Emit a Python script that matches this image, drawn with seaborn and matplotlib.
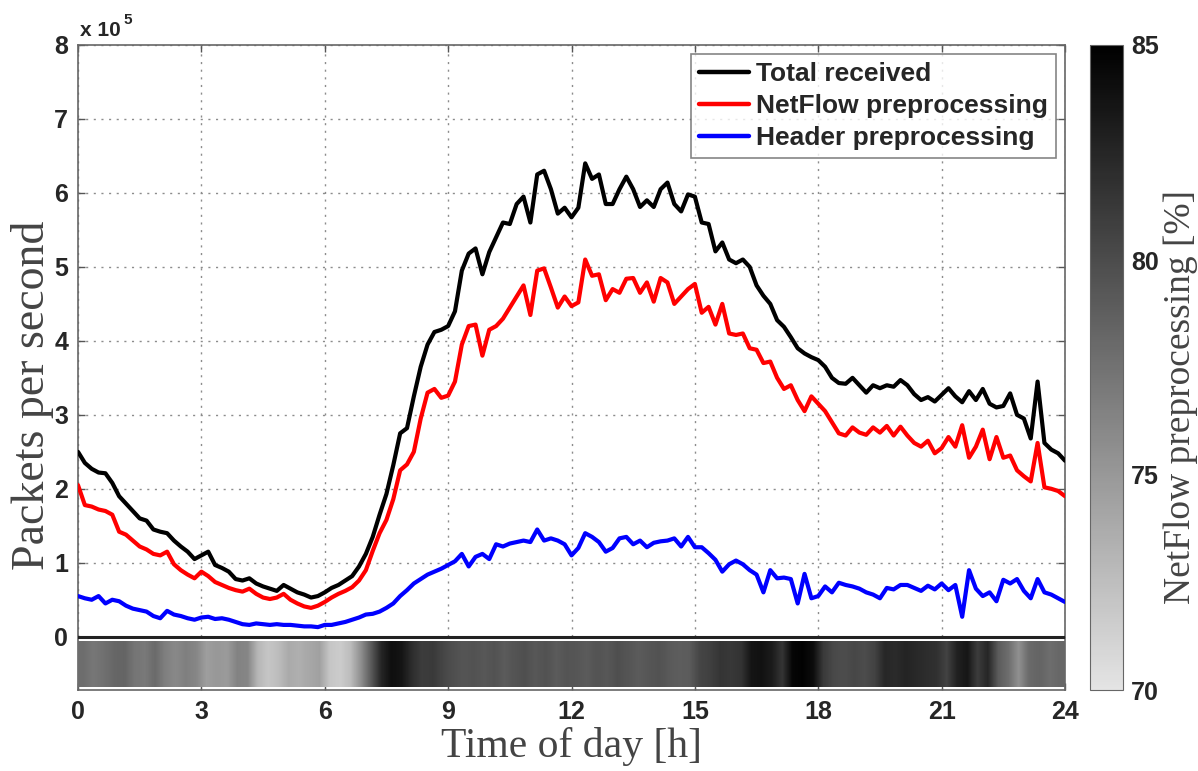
import numpy as np
import matplotlib
matplotlib.use("Agg")
import matplotlib.pyplot as plt
from matplotlib.colors import LinearSegmentedColormap
import seaborn as sns

# Packet rates over one day, in units of 1e5 packets/s, sampled every 10 minutes
HOURS = np.arange(145) / 6.0

TOTAL_RECEIVED = [
    2.50, 2.35, 2.27, 2.22, 2.21, 2.08,
    1.90, 1.80, 1.70, 1.60, 1.57, 1.45,
    1.42, 1.40, 1.30, 1.22, 1.15, 1.05,
    1.10, 1.15, 0.97, 0.93, 0.88, 0.78,
    0.76, 0.79, 0.72, 0.68, 0.65, 0.62,
    0.70, 0.65, 0.60, 0.57, 0.53, 0.55,
    0.60, 0.66, 0.70, 0.76, 0.82, 0.95,
    1.12, 1.35, 1.65, 1.93, 2.32, 2.75,
    2.82, 3.25, 3.65, 3.95, 4.12, 4.15,
    4.20, 4.40, 4.95, 5.18, 5.25, 4.90,
    5.20, 5.40, 5.60, 5.58, 5.85, 5.95,
    5.60, 6.25, 6.30, 6.05, 5.72, 5.80,
    5.67, 5.80, 6.40, 6.19, 6.25, 5.85,
    5.85, 6.05, 6.22, 6.05, 5.81, 5.90,
    5.81, 6.05, 6.14, 5.85, 5.75, 5.98,
    5.95, 5.60, 5.58, 5.21, 5.33, 5.10,
    5.05, 5.10, 5.00, 4.75, 4.61, 4.50,
    4.28, 4.19, 4.05, 3.90, 3.83, 3.78,
    3.74, 3.65, 3.50, 3.43, 3.42, 3.50,
    3.40, 3.30, 3.40, 3.36, 3.40, 3.38,
    3.47, 3.40, 3.28, 3.20, 3.24, 3.18,
    3.27, 3.36, 3.25, 3.17, 3.32, 3.20,
    3.35, 3.15, 3.10, 3.12, 3.29, 3.00,
    2.95, 2.68, 3.45, 2.62, 2.53, 2.48,
    2.38,
]

NETFLOW = [
    2.05, 1.78, 1.76, 1.72, 1.70, 1.65,
    1.42, 1.38, 1.30, 1.22, 1.18, 1.12,
    1.10, 1.15, 0.98, 0.90, 0.84, 0.79,
    0.88, 0.82, 0.74, 0.70, 0.66, 0.63,
    0.61, 0.65, 0.58, 0.53, 0.51, 0.53,
    0.58, 0.50, 0.45, 0.41, 0.39, 0.42,
    0.47, 0.53, 0.58, 0.62, 0.67, 0.76,
    0.90, 1.16, 1.40, 1.58, 1.86, 2.25,
    2.33, 2.50, 2.95, 3.30, 3.35, 3.23,
    3.26, 3.45, 3.95, 4.20, 4.22, 3.80,
    4.15, 4.20, 4.30, 4.45, 4.60, 4.75,
    4.35, 4.95, 4.98, 4.72, 4.45, 4.60,
    4.47, 4.52, 5.10, 4.88, 4.90, 4.55,
    4.70, 4.65, 4.84, 4.85, 4.65, 4.79,
    4.53, 4.85, 4.79, 4.50, 4.60, 4.70,
    4.77, 4.38, 4.46, 4.22, 4.50, 4.10,
    4.08, 4.10, 3.90, 3.88, 3.70, 3.72,
    3.50, 3.35, 3.40, 3.20, 3.05, 3.25,
    3.15, 3.05, 2.90, 2.75, 2.72, 2.83,
    2.76, 2.73, 2.83, 2.76, 2.85, 2.72,
    2.84, 2.72, 2.62, 2.57, 2.65, 2.48,
    2.55, 2.70, 2.57, 2.86, 2.42, 2.57,
    2.80, 2.40, 2.70, 2.42, 2.45, 2.25,
    2.17, 2.10, 2.62, 2.02, 2.00, 1.97,
    1.90,
]

HEADER = [
    0.55, 0.52, 0.50, 0.55, 0.45, 0.50,
    0.48, 0.42, 0.38, 0.36, 0.34, 0.28,
    0.25, 0.35, 0.30, 0.28, 0.25, 0.23,
    0.26, 0.27, 0.24, 0.25, 0.23, 0.20,
    0.17, 0.16, 0.18, 0.17, 0.16, 0.17,
    0.16, 0.16, 0.15, 0.14, 0.14, 0.13,
    0.16, 0.16, 0.18, 0.20, 0.23, 0.26,
    0.30, 0.31, 0.34, 0.39, 0.45, 0.55,
    0.63, 0.72, 0.78, 0.84, 0.88, 0.92,
    0.97, 1.02, 1.12, 0.95, 1.08, 1.12,
    1.05, 1.25, 1.22, 1.26, 1.28, 1.30,
    1.28, 1.45, 1.30, 1.33, 1.30, 1.25,
    1.10, 1.20, 1.40, 1.35, 1.28, 1.15,
    1.20, 1.33, 1.35, 1.25, 1.30, 1.21,
    1.27, 1.29, 1.30, 1.33, 1.22, 1.35,
    1.21, 1.21, 1.13, 1.04, 0.88, 0.98,
    1.03, 0.98, 0.90, 0.84, 0.60, 0.90,
    0.79, 0.80, 0.78, 0.45, 0.85, 0.52,
    0.55, 0.68, 0.60, 0.73, 0.70, 0.68,
    0.65, 0.60, 0.57, 0.52, 0.66, 0.64,
    0.70, 0.70, 0.66, 0.62, 0.69, 0.64,
    0.72, 0.63, 0.70, 0.27, 0.90, 0.65,
    0.55, 0.60, 0.48, 0.77, 0.72, 0.78,
    0.62, 0.52, 0.78, 0.60, 0.57, 0.52,
    0.47,
]

# NetFlow preprocessing share [%], one value per quarter hour
NETFLOW_SHARE = [
    77.8, 77.2, 77.6, 78.2, 78.4, 77.3, 77.0, 78.0,
    76.6, 76.0, 76.6, 76.2, 74.6, 75.0, 74.8, 76.4,
    76.2, 73.0, 72.0, 72.6, 73.8, 73.5, 74.0, 74.4,
    72.0, 71.6, 72.6, 75.5, 79.0, 82.5, 84.0, 83.6,
    82.0, 81.0, 81.2, 80.4, 79.8, 79.4, 79.6, 79.2,
    79.6, 79.0, 79.5, 79.8, 79.2, 79.6, 79.0, 79.4,
    79.3, 79.0, 79.5, 79.2, 79.8, 79.4, 79.0, 79.3,
    79.6, 79.1, 78.8, 79.0, 80.4, 80.8, 81.5, 81.3,
    81.6, 83.6, 83.8, 83.2, 81.5, 84.6, 84.8, 84.2,
    81.2, 80.2, 79.9, 80.3, 80.0, 80.6, 82.4, 82.2,
    82.6, 82.3, 82.0, 81.8, 80.6, 82.8, 83.5, 81.0,
    82.5, 79.0, 77.8, 75.5, 78.0, 78.4, 77.8, 78.2,
]

SERIES_LABELS = ["Total received", "NetFlow preprocessing", "Header preprocessing"]
SERIES_COLORS = ["#000000", "#ff0000", "#0000ff"]
X_TICKS = list(range(0, 25, 3))
Y_TICKS = list(range(0, 9))
CBAR_TICKS = [70, 75, 80, 85]

sns.set_style("ticks")
plt.rcParams["font.family"] = ["Liberation Sans", "DejaVu Sans"]

fig = plt.figure(figsize=(11.98, 7.71), dpi=100)
W, H = 1198.0, 771.0
ax = fig.add_axes([78 / W, 1 - 690 / H, 987 / W, 645 / H])
cax = fig.add_axes([1090 / W, 1 - 690 / H, 33 / W, 645 / H])

tick_font = dict(family="Liberation Sans", weight="bold", size=18)
serif = "Liberation Serif"

for values, label, color in zip([TOTAL_RECEIVED, NETFLOW, HEADER], SERIES_LABELS, SERIES_COLORS):
    sns.lineplot(x=HOURS, y=values, ax=ax, color=color, linewidth=3.0, label=label, zorder=4)

cmap = LinearSegmentedColormap.from_list("share", ["#e4e4e4", "#000000"])
strip = np.array(NETFLOW_SHARE)[None, :]
im = ax.imshow(strip, extent=[0, 24, -0.68, -0.07], aspect="auto", cmap=cmap,
               vmin=70, vmax=85, interpolation="bilinear", zorder=3)
ax.axhline(0, color="#222222", linewidth=2.2, zorder=3)

ax.set_xlim(0, 24)
ax.set_ylim(-0.72, 8)
ax.set_xticks(X_TICKS)
ax.set_yticks(Y_TICKS)
ax.set_xticklabels([str(t) for t in X_TICKS], fontdict=tick_font)
ax.set_yticklabels([str(t) for t in Y_TICKS], fontdict=tick_font)
ax.set_axisbelow(True)
ax.grid(True, linestyle=(0, (1.5, 4)), color="#8c8c8c", linewidth=1.0)
ax.tick_params(direction="in", length=5, width=1, color="#555555",
               top=True, right=True, pad=7)
for sp in ax.spines.values():
    sp.set_color("#666666")
    sp.set_linewidth(1.2)

ax.set_xlabel("Time of day [h]", family=serif, fontsize=30, color="#444444")
ax.set_ylabel("Packets per second", family=serif, fontsize=33, color="#444444")
ax.xaxis.set_label_coords(0.5, -0.058)
ax.yaxis.set_label_coords(-0.024, 0.457)

ax.text(0.002, 1.008, "x 10", transform=ax.transAxes, ha="left", va="bottom",
        fontsize=15, fontweight="bold")
ax.text(0.046, 1.028, "5", transform=ax.transAxes, ha="left", va="bottom",
        fontsize=11, fontweight="bold")

leg = ax.legend(loc="upper right", frameon=True, fancybox=False, edgecolor="#666666",
                prop=dict(family="Liberation Sans", weight="bold", size=19),
                handlelength=1.9, handletextpad=0.27, labelspacing=0.3,
                borderpad=0.3, borderaxespad=0.35)
leg.get_frame().set_linewidth(1.2)
for line in leg.get_lines():
    line.set_linewidth(3.2)

cb = fig.colorbar(im, cax=cax, ticks=CBAR_TICKS)
cb.outline.set_edgecolor("#666666")
cax.tick_params(direction="in", length=0, pad=6)
cax.set_yticklabels([str(t) for t in CBAR_TICKS], fontdict=tick_font)
fig.text(1181 / W, 1 - 397 / H, "NetFlow preprocessing [%]", rotation=90,
         ha="center", va="center", family=serif, fontsize=27, color="#444444")

fig.savefig("out.png", dpi=100)
